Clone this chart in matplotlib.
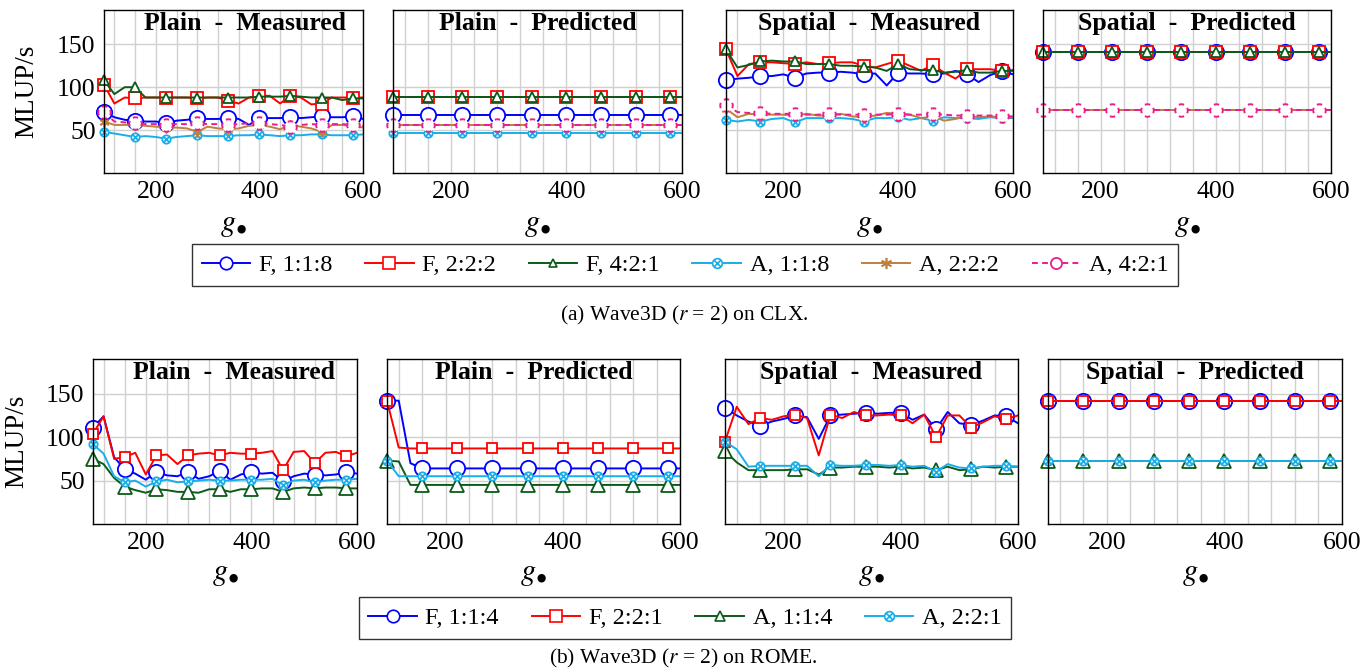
import matplotlib
matplotlib.use("Agg")
import matplotlib.pyplot as plt
from matplotlib.path import Path
from matplotlib.lines import Line2D

plt.rcParams['font.family'] = ['Liberation Serif', 'DejaVu Serif']
plt.rcParams['mathtext.fontset'] = 'stix'

# grid points g (markers drawn on every third one)
g = [100, 120, 140, 160, 180, 200, 220, 240, 260, 280, 300, 320, 340,
     360, 380, 400, 420, 440, 460, 480, 500, 520, 540, 560, 580, 600]

panel_titles = ['Plain  -  Measured', 'Plain  -  Predicted',
                'Spatial  -  Measured', 'Spatial  -  Predicted']

# ---------------- (a) CLX ----------------
clx_labels = ['F, 1:1:8', 'F, 2:2:2', 'F, 4:2:1', 'A, 1:1:8', 'A, 2:2:2', 'A, 4:2:1']

clx_pm_f118 = [71, 65, 62, 61, 60, 60, 58, 61, 62, 64, 63, 63, 64, 63, 56, 64, 64, 64, 65, 64, 65, 66, 65, 65, 66, 63]
clx_pm_f222 = [103, 81, 88, 87, 88, 88, 88, 88, 88, 87, 88, 88, 84, 81, 88, 90, 90, 81, 90, 88, 80, 81, 88, 88, 88, 88]
clx_pm_f421 = [108, 92, 100, 100, 88, 88, 88, 88, 88, 88, 88, 88, 88, 88, 88, 89, 89, 89, 90, 89, 88, 88, 88, 85, 87, 87]
clx_pm_a118 = [48, 46, 44, 42, 43, 42, 40, 42, 43, 44, 43, 43, 43, 44, 44, 45, 44, 43, 44, 44, 45, 45, 44, 44, 44, 45]
clx_pm_a222 = [60, 56, 56, 56, 55, 54, 53, 53, 52, 48, 54, 52, 51, 52, 55, 56, 54, 51, 56, 54, 52, 48, 56, 56, 55, 53]
clx_pm_a421 = [71, 60, 59, 58, 57, 57, 56, 57, 57, 58, 57, 57, 56, 57, 58, 58, 57, 56, 54, 56, 57, 56, 57, 57, 56, 55]

clx_pp_f118 = [68, 68, 68, 68, 68, 68, 68, 68, 68, 68, 68, 68, 68, 68, 68, 68, 68, 68, 68, 68, 68, 68, 68, 68, 68, 68]
clx_pp_f222 = [89, 89, 89, 89, 89, 89, 89, 89, 89, 89, 89, 89, 89, 89, 89, 89, 89, 89, 89, 89, 89, 89, 89, 89, 89, 89]
clx_pp_f421 = [89, 89, 89, 89, 89, 89, 89, 89, 89, 89, 89, 89, 89, 89, 89, 89, 89, 89, 89, 89, 89, 89, 89, 89, 89, 89]
clx_pp_a118 = [47, 47, 47, 47, 47, 47, 47, 47, 47, 47, 47, 47, 47, 47, 47, 47, 47, 47, 47, 47, 47, 47, 47, 47, 47, 47]
clx_pp_a222 = [56, 56, 56, 56, 56, 56, 56, 56, 56, 56, 56, 56, 56, 56, 56, 56, 56, 56, 56, 56, 56, 56, 56, 56, 56, 56]
clx_pp_a421 = [56, 56, 56, 56, 56, 56, 56, 56, 56, 56, 56, 56, 56, 56, 56, 56, 56, 56, 56, 56, 56, 56, 56, 56, 56, 56]

clx_sm_f118 = [108, 110, 111, 113, 113, 115, 111, 116, 117, 117, 118, 117, 115, 116, 102, 117, 116, 116, 115, 116, 119, 115, 106, 114, 119, 115]
clx_sm_f222 = [144, 113, 127, 129, 129, 128, 127, 129, 127, 128, 129, 129, 125, 123, 127, 131, 125, 119, 126, 117, 110, 121, 121, 121, 119, 120]
clx_sm_f421 = [144, 123, 126, 130, 131, 130, 130, 127, 127, 127, 125, 125, 124, 123, 119, 127, 121, 120, 120, 117, 118, 120, 117, 117, 119, 119]
clx_sm_a118 = [62, 60, 62, 60, 63, 64, 59, 64, 64, 64, 64, 63, 60, 64, 64, 65, 62, 64, 61, 65, 64, 64, 63, 65, 64, 64]
clx_sm_a222 = [75, 65, 69, 68, 68, 68, 67, 69, 67, 67, 69, 66, 65, 67, 70, 69, 68, 64, 66, 61, 63, 67, 65, 66, 65, 65]
clx_sm_a421 = [79, 71, 70, 70, 69, 69, 69, 68, 68, 69, 68, 68, 68, 68, 68, 69, 68, 68, 69, 68, 67, 67, 67, 67, 66, 66]

clx_sp_f118 = [141, 141, 141, 141, 141, 141, 141, 141, 141, 141, 141, 141, 141, 141, 141, 141, 141, 141, 141, 141, 141, 141, 141, 141, 141, 141]
clx_sp_f222 = [141, 141, 141, 141, 141, 141, 141, 141, 141, 141, 141, 141, 141, 141, 141, 141, 141, 141, 141, 141, 141, 141, 141, 141, 141, 141]
clx_sp_f421 = [141, 141, 141, 141, 141, 141, 141, 141, 141, 141, 141, 141, 141, 141, 141, 141, 141, 141, 141, 141, 141, 141, 141, 141, 141, 141]
clx_sp_a118 = [74, 74, 74, 74, 74, 74, 74, 74, 74, 74, 74, 74, 74, 74, 74, 74, 74, 74, 74, 74, 74, 74, 74, 74, 74, 74]
clx_sp_a222 = [74, 74, 74, 74, 74, 74, 74, 74, 74, 74, 74, 74, 74, 74, 74, 74, 74, 74, 74, 74, 74, 74, 74, 74, 74, 74]
clx_sp_a421 = [74, 74, 74, 74, 74, 74, 74, 74, 74, 74, 74, 74, 74, 74, 74, 74, 74, 74, 74, 74, 74, 74, 74, 74, 74, 74]

# ---------------- (b) ROME ----------------
rome_labels = ['F, 1:1:4', 'F, 2:2:1', 'A, 1:1:4', 'A, 2:2:1']

rome_pm_f114 = [111, 124, 77, 63, 58, 51, 60, 56, 55, 60, 52, 55, 61, 51, 57, 60, 58, 59, 49, 55, 58, 57, 56, 57, 60, 58]
rome_pm_f221 = [104, 124, 75, 77, 82, 57, 79, 80, 69, 79, 81, 82, 79, 82, 81, 81, 82, 84, 62, 83, 84, 70, 82, 83, 78, 82]
rome_pm_a114 = [75, 69, 53, 43, 39, 36, 40, 39, 37, 37, 36, 40, 40, 37, 40, 40, 41, 41, 37, 41, 42, 41, 42, 42, 41, 41]
rome_pm_a221 = [92, 81, 55, 48, 50, 43, 49, 51, 48, 49, 50, 51, 50, 50, 51, 51, 51, 52, 45, 50, 51, 48, 50, 51, 51, 52]

rome_pp_f114 = [142, 142, 70, 64, 64, 64, 64, 64, 64, 64, 64, 64, 64, 64, 64, 64, 64, 64, 64, 64, 64, 64, 64, 64, 64, 64]
rome_pp_f221 = [142, 88, 87, 87, 87, 87, 87, 87, 87, 87, 87, 87, 87, 87, 87, 87, 87, 87, 87, 87, 87, 87, 87, 87, 87, 87]
rome_pp_a114 = [73, 72, 45, 45, 45, 45, 45, 45, 45, 45, 45, 45, 45, 45, 45, 45, 45, 45, 45, 45, 45, 45, 45, 45, 45, 45]
rome_pp_a221 = [73, 55, 55, 55, 55, 55, 55, 55, 55, 55, 55, 55, 55, 55, 55, 55, 55, 55, 55, 55, 55, 55, 55, 55, 55, 55]

rome_sm_f114 = [134, 125, 118, 113, 118, 121, 125, 123, 98, 125, 126, 127, 128, 127, 128, 128, 120, 126, 109, 129, 116, 114, 119, 125, 124, 116]
rome_sm_f221 = [95, 135, 115, 122, 120, 124, 126, 122, 79, 126, 122, 129, 125, 125, 126, 125, 116, 126, 100, 125, 125, 111, 117, 124, 121, 125]
rome_sm_a114 = [84, 71, 62, 62, 62, 62, 63, 63, 57, 65, 65, 66, 66, 66, 65, 66, 64, 65, 62, 66, 62, 63, 66, 65, 66, 66]
rome_sm_a221 = [95, 86, 66, 67, 67, 67, 67, 67, 55, 68, 67, 67, 68, 68, 67, 68, 66, 67, 60, 69, 65, 64, 66, 67, 67, 66]

rome_sp_f114 = [142, 142, 142, 142, 142, 142, 142, 142, 142, 142, 142, 142, 142, 142, 142, 142, 142, 142, 142, 142, 142, 142, 142, 142, 142, 142]
rome_sp_f221 = [142, 142, 142, 142, 142, 142, 142, 142, 142, 142, 142, 142, 142, 142, 142, 142, 142, 142, 142, 142, 142, 142, 142, 142, 142, 142]
rome_sp_a114 = [73, 73, 73, 73, 73, 73, 73, 73, 73, 73, 73, 73, 73, 73, 73, 73, 73, 73, 73, 73, 73, 73, 73, 73, 73, 73]
rome_sp_a221 = [73, 73, 73, 73, 73, 73, 73, 73, 73, 73, 73, 73, 73, 73, 73, 73, 73, 73, 73, 73, 73, 73, 73, 73, 73, 73]

# ---------------- markers ----------------
BLUE, RED, GREEN = '#0000ff', '#ff0000', '#0b5a1a'
CYAN, BROWN, PINK = '#19aee8', '#c08040', '#ec1d8c'

d = 0.7071
OTIMES = Path.make_compound_path(
    Path.unit_circle(),
    Path([(-d, -d), (d, d)], [Path.MOVETO, Path.LINETO]),
    Path([(-d, d), (d, -d)], [Path.MOVETO, Path.LINETO]))
DASHCIRC = Path.make_compound_path(
    *[Path.arc(a, a + 50) for a in (-25, 65, 155, 245)])
STAR = (6, 2, 0)

# style per series: colour, marker, plot size, legend size, dashed
clx_styles = [(BLUE, 'o', 11, 9, False), (RED, 's', 8, 8, False),
              (GREEN, '^', 6.5, 6, False), (CYAN, OTIMES, 6, 7, False),
              (BROWN, STAR, 7, 8, False), (PINK, DASHCIRC, 9, 8, True)]
rome_styles = [(BLUE, 'o', 11, 9, False), (RED, 's', 7.5, 8, False),
               (GREEN, '^', 9.5, 7, False), (CYAN, OTIMES, 6, 7, False)]

W, H = 1364, 672


def rect(l, r, t, b):
    return [l / W, 1 - b / H, (r - l) / W, (b - t) / H]


def draw(ax, y, style):
    color, marker, ms, _, dashed = style
    if dashed:
        ax.plot(g, y, color=color, lw=1.4, dashes=(3, 2.2), marker='o',
                ms=ms, mfc='white', mec='none', markevery=3, clip_on=False)
        ax.plot(g, y, ls='none', marker=marker, ms=ms, mec=color, mfc='none',
                mew=1.4, markevery=3, clip_on=False)
    else:
        ax.plot(g, y, color=color, lw=1.4, marker=marker, ms=ms, mfc='white',
                mec=color, mew=1.3, markevery=3, clip_on=False)


def setup(ax, title, first, tx, ylab_x, xlab_y):
    ax.set_xlim(100, 600)
    ax.set_ylim(0, 190)
    ax.set_xticks([200, 400, 600])
    ax.set_xticks([120, 160, 240, 280, 320, 360, 440, 480, 520, 560], minor=True)
    ax.set_yticks([50, 100, 150])
    ax.grid(True, which='both', color='#d0d0d0', lw=1.0)
    ax.set_axisbelow(True)
    ax.tick_params(which='both', length=0, labelsize=18.5)
    ax.tick_params(axis='x', pad=6)
    ax.tick_params(axis='y', pad=6)
    for s in ax.spines.values():
        s.set_linewidth(1.0)
    ax.text(tx, 0.99, title, transform=ax.transAxes, ha='center', va='top',
            fontsize=18.5, fontweight='bold')
    ax.set_xlabel('$g_{\u2022}$', fontsize=22)
    ax.xaxis.set_label_coords(0.5, xlab_y)
    if first:
        ax.set_ylabel('MLUP/s', fontsize=19.5)
        ax.yaxis.set_label_coords(ylab_x, 0.5)
    else:
        ax.tick_params(labelleft=False)


def legend_handles(styles):
    hs = []
    for color, marker, _, lms, dashed in styles:
        if dashed:
            hs.append(Line2D([], [], color=color, lw=1.4, dashes=(3, 2.2),
                             marker='o', ms=lms, mec=color, mfc='white', mew=1.3))
        else:
            hs.append(Line2D([], [], color=color, lw=1.4, marker=marker, ms=lms,
                             mec=color, mfc='white', mew=1.2))
    return hs


fig = plt.figure(figsize=(W / 100, H / 100), dpi=100)

clx_panels = [
    [clx_pm_f118, clx_pm_f222, clx_pm_f421, clx_pm_a118, clx_pm_a222, clx_pm_a421],
    [clx_pp_f118, clx_pp_f222, clx_pp_f421, clx_pp_a118, clx_pp_a222, clx_pp_a421],
    [clx_sm_f118, clx_sm_f222, clx_sm_f421, clx_sm_a118, clx_sm_a222, clx_sm_a421],
    [clx_sp_f118, clx_sp_f222, clx_sp_f421, clx_sp_a118, clx_sp_a222, clx_sp_a421],
]
rome_panels = [
    [rome_pm_f114, rome_pm_f221, rome_pm_a114, rome_pm_a221],
    [rome_pp_f114, rome_pp_f221, rome_pp_a114, rome_pp_a221],
    [rome_sm_f114, rome_sm_f221, rome_sm_a114, rome_sm_a221],
    [rome_sp_f114, rome_sp_f221, rome_sp_a114, rome_sp_a221],
]

top_rects = [rect(104, 363, 10, 173), rect(393, 682, 10, 173),
             rect(726, 1013, 10, 173), rect(1043, 1331, 10, 173)]
bot_rects = [rect(93, 357, 359, 524), rect(387, 680, 359, 524),
             rect(725, 1018, 359, 524), rect(1048, 1342, 359, 524)]

for i in range(4):
    ax = fig.add_axes(top_rects[i])
    for y, st in zip(clx_panels[i], clx_styles):
        draw(ax, y, st)
    setup(ax, panel_titles[i], i == 0, 0.545 if i == 0 else 0.5, -0.25, -0.225)

    ax = fig.add_axes(bot_rects[i])
    for y, st in zip(rome_panels[i], rome_styles):
        draw(ax, y, st)
    setup(ax, panel_titles[i], i == 0, 0.535 if i == 0 else 0.5, -0.24, -0.212)

for styles, labels, cy in ((clx_styles, clx_labels, 265), (rome_styles, rome_labels, 618)):
    leg = fig.legend(legend_handles(styles), labels, loc='center',
                     bbox_to_anchor=(685 / W, 1 - cy / H), ncol=len(labels),
                     frameon=True, fancybox=False, edgecolor='black',
                     fontsize=17.5, handlelength=2.0, handletextpad=0.35,
                     columnspacing=1.35, borderpad=0.4, numpoints=1)
    leg.get_frame().set_linewidth(1.0)

fig.text(684 / W, 1 - 315 / H, r'(a) Wave3D ($r$ = 2) on CLX.', ha='center', va='center', fontsize=15.5)
fig.text(683 / W, 1 - 658 / H, r'(b) Wave3D ($r$ = 2) on ROME.', ha='center', va='center', fontsize=15.5)

fig.savefig('out.png', dpi=100)
